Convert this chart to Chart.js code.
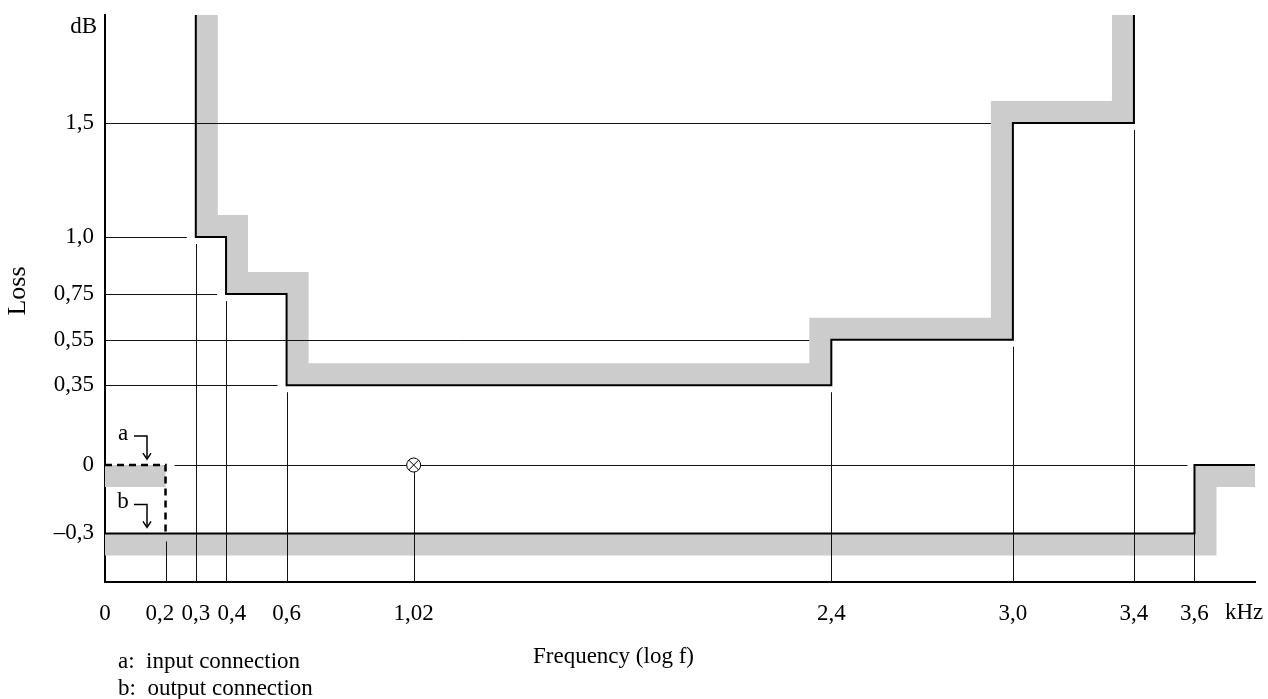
<!DOCTYPE html>
<html>
<head>
<meta charset="utf-8">
<script src="https://cdn.jsdelivr.net/npm/chart.js@4.4.0/dist/chart.umd.min.js"></script>
<style>
  html, body { margin: 0; padding: 0; background: #fff; }
  #wrap { width: 1268px; height: 699px; }
</style>
</head>
<body>
<div id="wrap"><canvas id="maskChart" width="1268" height="699"></canvas></div>
<script>
const freqTicks = [0, 0.2, 0.3, 0.4, 0.6, 1.02, 2.4, 3.0, 3.4, 3.6];
// en spaces spread the crowded 0,2 / 0,3 / 0,4 labels a little
const freqLabels = ['0', '0,2\u2002', '0,3', '\u20020,4', '0,6', '1,02', '2,4', '3,0', '3,4', '3,6'];
const lossTicks = [-0.3, 0, 0.35, 0.55, 0.75, 1.0, 1.5];
const lossLabels = ['–0,3', '0', '0,35', '0,55', '0,75', '1,0', '1,5'];

// upper limit of the loss (steps)
const upperFreq = [0.3, 0.3, 0.4, 0.4, 0.6, 0.6, 2.4, 2.4, 3.0, 3.0, 3.4, 3.4];
const upperLoss = [2.0, 1.0, 1.0, 0.75, 0.75, 0.35, 0.35, 0.55, 0.55, 1.5, 1.5, 2.0];
// lower limit, b: output connection
const lowerFreq = [0, 3.6, 3.6, 3.8];
const lowerLoss = [-0.3, -0.3, 0, 0];
// a: input connection
const inputFreq = [0, 0.2, 0.2];
const inputLoss = [0, 0, -0.3];
// reference point
const refFreq = [1.02];
const refLoss = [0];

// thin guide lines
const hGuideLoss = [1.5, 1.0, 0.75, 0.55, 0.35, 0];
const hGuideFrom = [0, 0, 0, 0, 0, 0.2];
const hGuideTo = [3.0, 0.3, 0.4, 2.4, 0.6, 3.6];
const vGuideFreq = [0.2, 0.3, 0.4, 0.6, 1.02, 2.4, 3.0, 3.4, 3.6];
const vGuideTop = [-0.3, 1.0, 0.75, 0.35, 0, 0.35, 0.55, 1.5, -0.3];

const FONT = "'Liberation Serif', 'Times New Roman', serif";

function toPoints(xs, ys) {
    return xs.map((x, i) => ({ x: x, y: ys[i] }));
}

// gray band along one side of a step line
function drawBand(ctx, pts, side, w) {
    const n = [];
    for (let i = 0; i < pts.length - 1; i++) {
        const dx = pts[i + 1].x - pts[i].x, dy = pts[i + 1].y - pts[i].y;
        const len = Math.hypot(dx, dy) || 1;
        n.push({ x: side * dy / len, y: -side * dx / len });
    }
    const outer = pts.map((p, i) => {
        const a = n[i - 1] || n[i], b = n[i] || n[i - 1];
        let mx = a.x + b.x, my = a.y + b.y;
        if (Math.abs(a.x * b.x + a.y * b.y) > 0.99) { mx = a.x; my = a.y; }
        return { x: p.x + mx * w, y: p.y + my * w };
    });
    ctx.beginPath();
    pts.forEach((p, i) => i ? ctx.lineTo(p.x, p.y) : ctx.moveTo(p.x, p.y));
    for (let i = outer.length - 1; i >= 0; i--) ctx.lineTo(outer[i].x, outer[i].y);
    ctx.closePath();
    ctx.fill();
}

const maskPlugin = {
    id: 'mask',
    beforeDatasetsDraw(chart) {
        const ctx = chart.ctx, area = chart.chartArea;
        const xs = chart.scales.x, ys = chart.scales.y;
        ctx.save();
        ctx.beginPath();
        ctx.rect(area.left, area.top, area.right - area.left, area.bottom - area.top);
        ctx.clip();
        ctx.fillStyle = '#cccccc';
        chart.data.datasets.forEach((ds, i) => {
            if (!ds.band) return;
            let pts = chart.getDatasetMeta(i).data.map(p => ({ x: p.x, y: p.y }));
            if (ds.bandPoints) pts = pts.slice(0, ds.bandPoints);
            drawBand(ctx, pts, ds.band, 22);
        });

        ctx.strokeStyle = '#111';
        ctx.lineWidth = 1;
        const hGap = [22, 9, 9, 22, 9, 7];
        hGuideLoss.forEach((v, i) => {
            const y = Math.round(ys.getPixelForValue(v)) + 0.5;
            const x0 = xs.getPixelForValue(hGuideFrom[i]) + (hGuideFrom[i] > 0 ? 9 : 0);
            const x1 = xs.getPixelForValue(hGuideTo[i]) - hGap[i];
            ctx.beginPath();
            ctx.moveTo(x0, y);
            ctx.lineTo(x1, y);
            ctx.stroke();
        });
        const vGap = [8, 7, 7, 7, 7, 7, 7, 7, 0];
        vGuideFreq.forEach((f, i) => {
            const x = Math.round(xs.getPixelForValue(f)) + 0.5;
            const y0 = area.bottom;
            const y1 = ys.getPixelForValue(vGuideTop[i]) + vGap[i];
            ctx.beginPath();
            ctx.moveTo(x, y0);
            ctx.lineTo(x, y1);
            ctx.stroke();
        });
        ctx.restore();
    },
    afterDraw(chart) {
        const ctx = chart.ctx, area = chart.chartArea;
        const ys = chart.scales.y;
        ctx.save();
        ctx.fillStyle = '#000';
        ctx.font = '23px ' + FONT;
        ctx.textBaseline = 'middle';

        ctx.textAlign = 'right';
        ctx.fillText('dB', area.left - 8, area.top + 12);
        ctx.textAlign = 'left';
        ctx.fillText('kHz', area.right - 30, 613);
        ctx.fillText('Frequency (log f)', 533, 657);
        ctx.fillText('a:  input connection', 118, 662);
        ctx.fillText('b:  output connection', 118, 689);

        ctx.save();
        ctx.font = '26px ' + FONT;
        ctx.translate(18, 291);
        ctx.rotate(-Math.PI / 2);
        ctx.textAlign = 'center';
        ctx.fillText('Loss', 0, 0);
        ctx.restore();

        // a / b markers with bent arrows
        const marks = [['a', ys.getPixelForValue(0)], ['b', ys.getPixelForValue(-0.3)]];
        ctx.strokeStyle = '#000';
        ctx.lineWidth = 1.5;
        marks.forEach(([txt, yLine]) => {
            const yTop = yLine - 29;
            ctx.textAlign = 'center';
            ctx.fillText(txt, area.left + 18, yTop - 2);
            ctx.beginPath();
            ctx.moveTo(area.left + 29, yTop);
            ctx.lineTo(area.left + 42, yTop);
            ctx.lineTo(area.left + 42, yLine - 7);
            ctx.stroke();
            ctx.beginPath();
            ctx.moveTo(area.left + 38, yLine - 12);
            ctx.lineTo(area.left + 42, yLine - 6);
            ctx.lineTo(area.left + 46, yLine - 12);
            ctx.stroke();
        });
        ctx.restore();
    }
};

const lineStyle = { showLine: true, pointRadius: 0, borderColor: '#000', borderWidth: 2, fill: false, tension: 0 };

const noPad = (s) => { s.paddingTop = 0; s.paddingBottom = 0; s.paddingLeft = 0; s.paddingRight = 0; };

const maskChart = new Chart(document.getElementById('maskChart'), {
    type: 'scatter',
    data: {
        datasets: [
            Object.assign({ label: 'upper limit', data: toPoints(upperFreq, upperLoss), band: 1 }, lineStyle),
            Object.assign({ label: 'lower limit', data: toPoints(lowerFreq, lowerLoss), band: -1 }, lineStyle),
            Object.assign({ label: 'input connection', data: toPoints(inputFreq, inputLoss), band: -1, bandPoints: 2,
                borderDash: [7, 5] }, lineStyle, { borderWidth: 2.5 }),
            { label: 'ref cross', data: toPoints(refFreq, refLoss), pointStyle: 'crossRot', pointRadius: 7,
                borderColor: '#000', borderWidth: 1 },
            { label: 'ref circle', data: toPoints(refFreq, refLoss), pointStyle: 'circle', pointRadius: 7,
                backgroundColor: '#fff', borderColor: '#000', borderWidth: 1 }
        ]
    },
    options: {
        responsive: false,
        animation: false,
        layout: { padding: { top: 15, right: 13, left: 0, bottom: 0 } },
        plugins: { legend: { display: false }, tooltip: { enabled: false } },
        scales: {
            x: {
                type: 'linear', min: 0, max: 3.8, z: 1,
                afterBuildTicks: (s) => { s.ticks = freqTicks.map(v => ({ value: v })); },
                afterFit: (s) => { s.height = 117; noPad(s); },
                ticks: {
                    callback: (v, i) => freqLabels[i],
                    autoSkip: false, maxRotation: 0, padding: 18,
                    color: '#000', font: { family: FONT, size: 23 }
                },
                grid: { display: false, drawTicks: false },
                border: { display: true, color: '#000', width: 2 }
            },
            y: {
                type: 'linear', min: -0.513, max: 1.974, z: 1,
                afterBuildTicks: (s) => { s.ticks = lossTicks.map(v => ({ value: v })); },
                afterFit: (s) => { s.width = 105; noPad(s); },
                ticks: {
                    callback: (v, i) => lossLabels[i],
                    autoSkip: false, padding: 11,
                    color: '#000', font: { family: FONT, size: 23 }
                },
                grid: { display: false, drawTicks: false },
                border: { display: true, color: '#000', width: 2 }
            }
        }
    },
    plugins: [maskPlugin]
});
</script>
</body>
</html>
